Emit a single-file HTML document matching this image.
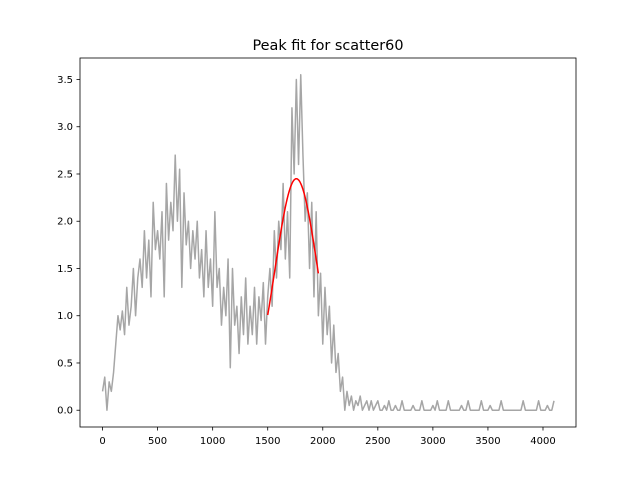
<!DOCTYPE html>
<html><head><meta charset="utf-8"><style>
body{margin:0;background:#fff}
text{font-family:"DejaVu Sans","Liberation Sans",sans-serif;fill:#000}
</style></head><body>
<svg id="c" width="640" height="480" xmlns="http://www.w3.org/2000/svg">
<rect width="640" height="480" fill="#fff"/>
<text x="328" y="50" font-size="14.4" text-anchor="middle">Peak fit for scatter60</text>
</svg>
<script>
const xStep = 20;
const counts = [0.2,0.35,0.0,0.3,0.2,0.4,0.7,1.0,0.85,1.05,0.8,1.3,0.9,1.1,1.5,1.0,1.4,1.6,1.3,1.9,
1.4,1.8,1.2,2.2,1.7,1.9,1.6,2.1,1.2,2.4,1.8,2.2,1.9,2.7,2.0,2.55,1.3,2.3,1.75,2.0,
1.5,1.9,1.6,2.0,1.4,1.7,1.2,1.9,1.3,1.6,1.1,2.1,1.3,1.5,0.9,1.3,1.0,1.6,0.45,1.5,
0.9,1.1,0.6,1.2,0.8,1.4,0.7,1.1,0.8,1.3,0.7,1.2,0.95,1.35,0.7,1.2,1.5,1.1,1.9,1.4,
2.0,1.7,2.4,1.6,2.1,1.4,3.2,2.5,3.5,2.6,3.55,2.7,2.0,2.3,1.5,2.2,1.2,2.1,1.0,1.45,
0.7,1.3,0.8,1.1,0.5,0.9,0.4,0.6,0.2,0.35,0.0,0.2,0.05,0.15,0.0,0.1,0.05,0.15,0.0,0.05,
0.1,0.0,0.1,0.0,0.05,0.1,0.0,0.0,0.05,0.0,0.1,0.0,0.0,0.05,0.0,0.0,0.1,0.0,0.0,0.0,
0.0,0.05,0.0,0.0,0.0,0.1,0.0,0.0,0.0,0.0,0.05,0.0,0.1,0.0,0.0,0.0,0.0,0.1,0.0,0.0,
0.0,0.0,0.0,0.05,0.0,0.0,0.1,0.0,0.0,0.0,0.0,0.0,0.1,0.0,0.0,0.0,0.05,0.0,0.0,0.0,
0.0,0.1,0.0,0.0,0.0,0.0,0.0,0.0,0.0,0.0,0.0,0.1,0.0,0.0,0.0,0.0,0.0,0.0,0.1,0.0,
0.0,0.0,0.05,0.0,0.0,0.1];
const fitAmp = 2.45, fitMu = 1760, fitSigma = 195, fitStart = 1500, fitEnd = 1960;
const xTicks = [0,500,1000,1500,2000,2500,3000,3500,4000];
const yTicks = [0.0,0.5,1.0,1.5,2.0,2.5,3.0,3.5];
const yTickLabels = ["0.0","0.5","1.0","1.5","2.0","2.5","3.0","3.5"];

const L=80,R=576,T=58,B=427;
const xmin=-204.75,xmax=4299.75,ymin=-0.1775,ymax=3.7275;
const sx=v=>L+(v-xmin)/(xmax-xmin)*(R-L);
const sy=v=>B-(v-ymin)/(ymax-ymin)*(B-T);
const svg=document.getElementById('c');
const NS='http://www.w3.org/2000/svg';
function mk(tag,attrs){const e=document.createElementNS(NS,tag);for(const k in attrs)e.setAttribute(k,attrs[k]);svg.appendChild(e);return e;}

let d=counts.map((v,i)=>(i?'L':'M')+sx(i*xStep).toFixed(2)+' '+sy(v).toFixed(2)).join(' ');
const p=mk('path',{d:d,fill:'none',stroke:'#a6a6a6','stroke-width':1.5,'stroke-linejoin':'round'});



let fd='';
for(let x=fitStart;x<=fitEnd;x+=5){const y=fitAmp*Math.exp(-((x-fitMu)**2)/(2*fitSigma**2));fd+=(fd?'L':'M')+sx(x).toFixed(2)+' '+sy(y).toFixed(2)+' ';}
const f=mk('path',{d:fd,fill:'none',stroke:'#ff0000','stroke-width':1.5});



const fr=mk('rect',{x:L,y:T,width:R-L,height:B-T,fill:'none',stroke:'#000','stroke-width':0.8});



xTicks.forEach(t=>{const x=sx(t);
 const l=mk('line',{x1:x,x2:x,y1:B,y2:B+3.5,stroke:'#000','stroke-width':0.8});
 
 
 const tx=mk('text',{x:x,y:B+17,'font-size':10,'text-anchor':'middle'});tx.textContent=t;
 
 
});
yTicks.forEach((t,i)=>{const y=sy(t);
 const l=mk('line',{x1:L-3.5,x2:L,y1:y,y2:y,stroke:'#000','stroke-width':0.8});
 
 
 const tx=mk('text',{x:L-7,y:y+3.5,'font-size':10,'text-anchor':'end'});tx.textContent=yTickLabels[i];
 
 
});
</script>
</body></html>
